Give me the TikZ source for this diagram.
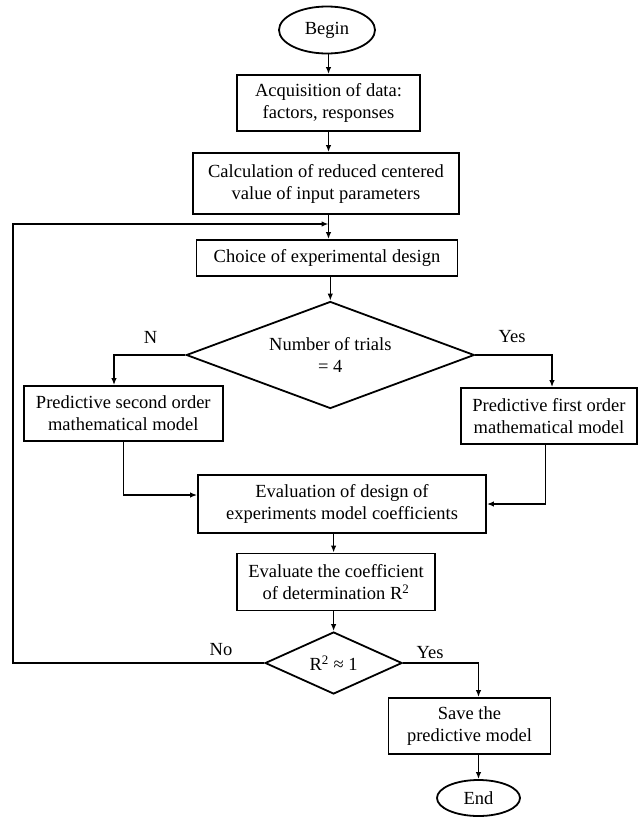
\documentclass[tikz,border=0pt]{standalone}
\usepackage{fontspec}
\setmainfont{Liberation Serif}
\usetikzlibrary{shapes.geometric}
\usetikzlibrary{arrows.meta}
\tikzset{
     block/.style={draw, rectangle, line width=1.8pt, inner sep=0pt, align=center},
     terminal/.style={draw, ellipse, line width=1.8pt, inner sep=0pt},
     decision/.style={draw, diamond, line width=1.8pt, inner sep=0pt, align=center, aspect=#1},
     answer/.style={inner sep=0pt},
     flow/.style={->, line width=1.5pt},
}
\tikzset{>={Latex[length=7pt,width=5.5pt]}}
\def\ux{1pt}

\begin{document}
\begin{tikzpicture}[x=\ux, y=-\ux, font=\fontsize{18.5}{22}\selectfont]
      \useasboundingbox (0,0) rectangle (638,817);

      % main column
      \node[terminal, minimum width=96pt, minimum height=47pt] (begin) at (327,30) {Begin};
      \node[block, minimum width=183pt, minimum height=56pt] (acq) at (328.5,103)
            {Acquisition of data:\\factors, responses};
      \node[block, minimum width=266pt, minimum height=61pt] (calc) at (326,183.5)
            {Calculation of reduced centered\\value of input parameters};
      \node[block, minimum width=261pt, minimum height=36pt] (choice) at (327,258)
            {Choice of experimental design};
      \node[decision=2.7, minimum width=288pt, minimum height=107pt] (trials) at (330.3,355)
            {Number of trials\\= 4};

      % the two models
      \node[block, minimum width=199pt, minimum height=55pt] (second) at (123.3,413.5)
            {Predictive second order\\mathematical model};
      \node[block, minimum width=176pt, minimum height=56pt] (first) at (549,416)
            {Predictive first order\\mathematical model};

      \node[block, minimum width=288pt, minimum height=58pt] (evalcoef) at (342,504)
            {Evaluation of design of\\experiments model coefficients};
      \node[block, minimum width=198pt, minimum height=57pt] (evalr) at (336,582)
            {Evaluate the coefficient\\of determination R\textsuperscript{2}};
      \node[decision=2.2, minimum width=137pt, minimum height=62pt] (rtest) at (333.6,663)
            {R\textsuperscript{2} ≈ 1};
      \node[block, minimum width=162pt, minimum height=56pt] (save) at (469.5,726)
            {Save the\\predictive model};
      \node[terminal, minimum width=83pt, minimum height=36pt] (finish) at (478.5,798) {End};

      % branch labels
      \node[answer] (nlbl) at (150.5,337) {N};
      \node[answer] (ylbl) at (512,337) {Yes};
      \node[answer] (nolbl) at (221,650) {No};
      \node[answer] (yeslbl) at (430,653) {Yes};

      \coordinate (join) at (328.5,224);

      % connectors
      \draw[flow] (begin.south -| acq) -- (acq.north);
      \draw[flow] (acq) -- (calc.north -| acq);
      \draw[flow] (calc.south -| acq) -- (choice.north -| acq);
      \draw[flow] (choice.south -| trials) -- (trials.north);
      \draw[flow] (trials.west) -| ([xshift=-9.3pt]second.north);
      \draw[flow] (trials.east) -| ([xshift=3pt]first.north);
      \draw[flow] (second.south) |- ([yshift=9pt]evalcoef.west);
      \draw[flow] ([xshift=-3.5pt]first.south) |- (evalcoef.east);
      \draw[flow] (evalcoef.south -| rtest) -- (evalr.north -| rtest);
      \draw[flow] (evalr.south -| rtest) -- (rtest.north);
      \draw[flow] (rtest.west) -| (13,224) -- (join);
      \draw[flow] (rtest.east) -| (finish.north |- save.north);
      \draw[flow] (save.south -| finish) -- (finish.north);

\end{tikzpicture}
\end{document}
